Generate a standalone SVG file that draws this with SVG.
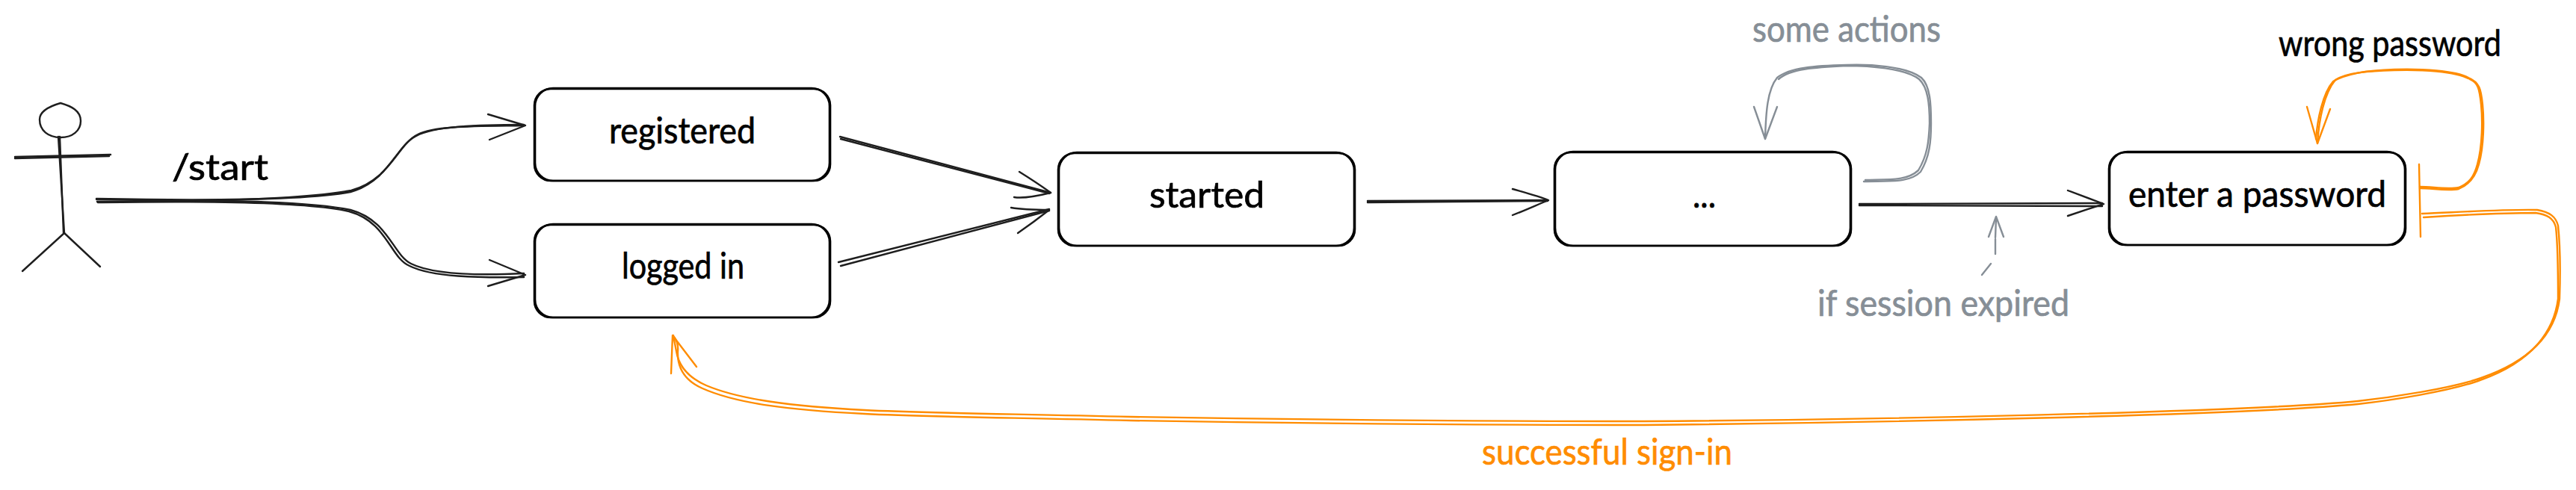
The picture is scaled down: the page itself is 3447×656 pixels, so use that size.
<svg xmlns="http://www.w3.org/2000/svg" width="3447" height="656" viewBox="0 0 3447 656">
<style>
.ink{fill:none;stroke:#1e1e1e;stroke-width:2.4;stroke-linecap:round;stroke-linejoin:round}
.box{fill:none;stroke:#000;stroke-width:2.6}
.gray{fill:none;stroke:#868e96;stroke-width:2.4;stroke-linecap:round;stroke-linejoin:round}
.orange{fill:none;stroke:#ff8c00;stroke-width:2.4;stroke-linecap:round;stroke-linejoin:round}
text{font-family:"Lato","Liberation Sans",sans-serif;font-size:48px;fill:#000;stroke:#000;stroke-width:.7}
text.g{fill:#868e96;stroke:#868e96}
text.o{fill:#ff8c00;stroke:#ff8c00}
</style>
<rect width="3447" height="656" fill="#fff"/>
<g id="connectors">
<g id="start-registered" class="ink">
<path d="M129 266C230 268 400 270 469 257C520 243 530 195 557 182C580 169 640 167 701 167"/>
<path d="M130 270C230 270 400 268 470 255C522 241 532 193 559 180C582 168 640 169 701 168"/>
<path d="M653 153L703 168L655 187"/>
</g>
<g id="start-logged" class="ink">
<path d="M129 267C230 269 400 266 469 281C520 295 525 340 550 353C580 368 640 369 701 366"/>
<path d="M131 271C230 270 400 268 467 283C518 297 522 345 548 356C578 371 640 372 701 371"/>
<path d="M655 348L703 368L653 383"/>
</g>
<g id="registered-started" class="ink">
<path d="M1124 183L1406 258"/><path d="M1125 186L1404 259"/>
<path d="M1364 230C1380 240 1395 250 1406 258C1390 262 1370 266 1357 264"/>
</g>
<g id="logged-started" class="ink">
<path d="M1122 351L1404 280"/><path d="M1125 356L1404 282"/>
<path d="M1353 278C1370 281 1390 281 1404 281C1390 292 1375 303 1362 312"/>
</g>
<g id="started-dots" class="ink">
<path d="M1830 269L2071 268"/><path d="M1830 271L2071 269"/>
<path d="M2024 253C2045 259 2060 263 2072 268C2055 275 2040 282 2024 288"/>
</g>
<g id="dots-password" class="ink">
<path d="M2488 273L2813 272"/><path d="M2488 275L2813 276"/>
<path d="M2767 255L2815 273L2767 289"/>
</g>
<g id="some-actions-loop" class="gray">
<path d="M2494 243C2530 242 2555 245 2570 230C2582 210 2584 190 2584 165C2584 140 2583 115 2571 104C2550 88 2500 86 2471 87C2430 88 2395 90 2378 104C2365 120 2363 150 2362 185"/>
<path d="M2496 241C2530 240 2552 242 2567 228C2579 208 2581 190 2582 165C2582 140 2580 117 2568 106C2548 91 2500 88 2471 88C2430 90 2395 92 2380 106"/>
<path d="M2347 143L2362 186L2378 143"/>
</g>
<path id="expired-shaft" class="gray" d="M2652 368L2664 353M2670 340L2670 320M2670 318L2671 292"/>
<path id="expired-head" class="gray" d="M2661 317L2671 290L2681 317"/>
<g id="wrong-password-loop" class="orange">
<path d="M3237 220L3239 317"/>
<path d="M3238 250C3255 250 3275 254 3290 251C3305 245 3311 235 3315 220C3322 195 3322 160 3320 140C3318 120 3316 110 3305 106C3285 95 3240 93 3204 94C3170 95 3140 97 3125 107C3110 125 3103 160 3101 192"/>
<path d="M3238 252C3255 252 3275 256 3290 253C3305 247 3313 235 3317 220C3324 195 3324 160 3322 140C3320 120 3318 110 3303 104C3285 94 3240 92 3204 93C3170 94 3140 98 3122 109C3108 125 3101 160 3099 186"/>
<path d="M3087 143L3101 192L3118 146"/>
</g>
<g id="success-loop" class="orange">
<path d="M3241 286C3290 284 3350 280 3395 281C3412 284 3420 290 3423 302C3426 330 3426 370 3425 400C3420 440 3395 480 3320 506C3280 520 3200 532 3155 537C3000 552 2500 562 2200 564C1900 564 1700 561 1514 558C1350 554 1230 553 1157 549C1060 544 990 535 945 516C920 505 908 490 905 470C903 460 902 455 901 449"/>
<path d="M3243 291C3290 288 3350 285 3393 285C3408 287 3417 292 3420 304C3423 330 3423 370 3423 400C3418 440 3392 484 3316 510C3276 524 3200 536 3155 541C3000 556 2500 566 2200 569C1900 569 1700 566 1514 563C1350 559 1230 558 1157 554C1055 549 985 540 940 520C915 509 906 492 907 470C908 460 905 455 902 451"/>
<path d="M898 500L900 449L932 491"/>
</g>
</g>
<g id="actor" class="ink">
<path d="M81 138C95 142 108 148 108 162C108 175 97 184 81 184C65 184 53 175 53 160C53 148 67 142 81 138Z"/>
<path d="M20 210L148 207"/><path d="M20 212L146 209"/>
<path d="M78 183L86 312"/><path d="M80 183L85 312"/>
<path d="M86 312L30 363"/><path d="M86 312L134 357"/>
</g>
<g id="node-registered">
<rect class="box" x="715" y="119" width="396" height="123" rx="22"/>
<rect class="box" x="716" y="118" width="394" height="124" rx="24"/>
<text x="815" y="192" textLength="196" lengthAdjust="spacingAndGlyphs">registered</text>
</g>
<g id="node-logged-in">
<rect class="box" x="715" y="301" width="396" height="124" rx="22"/>
<rect class="box" x="716" y="300" width="394" height="125" rx="24"/>
<text x="832" y="373" textLength="164" lengthAdjust="spacingAndGlyphs">logged in</text>
</g>
<g id="node-started">
<rect class="box" x="1416" y="205" width="397" height="124" rx="22"/>
<rect class="box" x="1417" y="204" width="395" height="125" rx="24"/>
<text x="1538" y="278" textLength="154" lengthAdjust="spacingAndGlyphs">started</text>
</g>
<g id="node-dots">
<rect class="box" x="2080" y="204" width="397" height="125" rx="22"/>
<rect class="box" x="2081" y="203" width="395" height="126" rx="24"/>
<text x="2265" y="278" textLength="31" lengthAdjust="spacingAndGlyphs">...</text>
</g>
<g id="node-password">
<rect class="box" x="2822" y="204" width="397" height="124" rx="22"/>
<rect class="box" x="2823" y="203" width="395" height="125" rx="24"/>
<text x="2848" y="277" textLength="345" lengthAdjust="spacingAndGlyphs">enter a password</text>
</g>
<g id="labels">
<text x="230" y="241" textLength="129" lengthAdjust="spacingAndGlyphs">/start</text>
<text class="g" x="2345" y="56" textLength="252" lengthAdjust="spacingAndGlyphs">some actions</text>
<text x="3049" y="75" textLength="298" lengthAdjust="spacingAndGlyphs">wrong password</text>
<text class="g" x="2432" y="423" textLength="337" lengthAdjust="spacingAndGlyphs">if session expired</text>
<text class="o" x="1983" y="622" textLength="335" lengthAdjust="spacingAndGlyphs">successful sign-in</text>
</g>
</svg>
